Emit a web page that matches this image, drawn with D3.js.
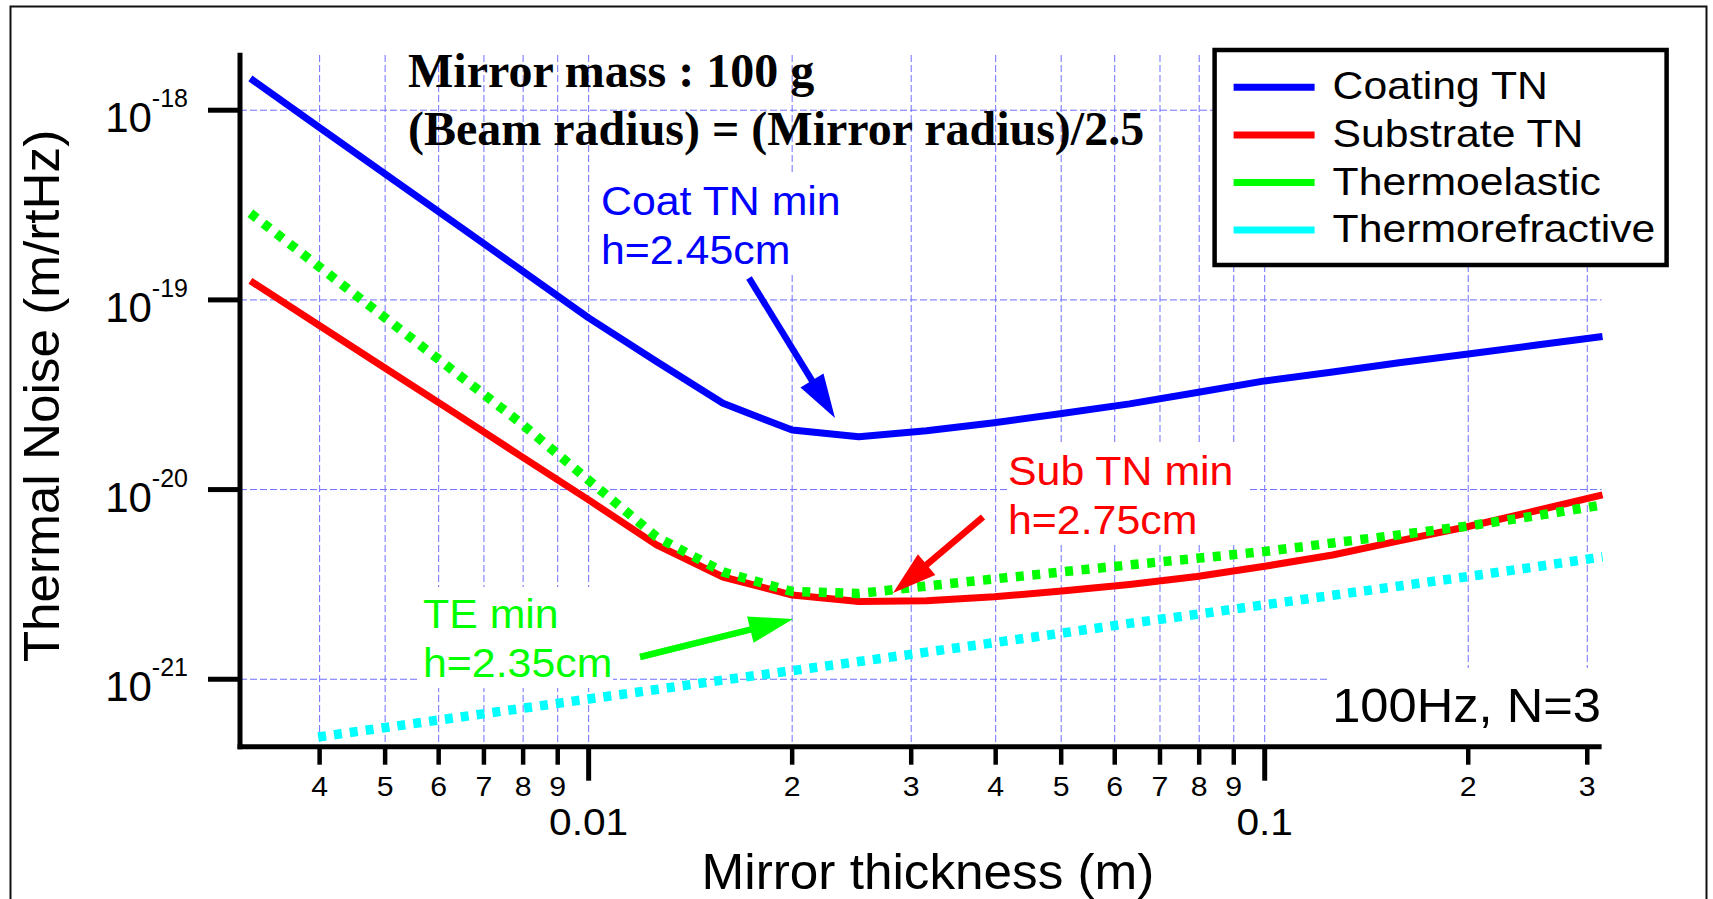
<!DOCTYPE html>
<html>
<head>
<meta charset="utf-8">
<script src="https://cdn.jsdelivr.net/npm/d3@7"></script>
<style>
  body { margin: 0; background: #fff; }
  text { font-family: "Liberation Sans", Arial, sans-serif; }
</style>
</head>
<body>
<svg id="chart" width="1713" height="899"></svg>
<script>
// mirror thickness samples (m), 10 per decade
const thickness = [0.00316, 0.00398, 0.00501, 0.00631, 0.00794, 0.0100, 0.0126, 0.0158, 0.0200, 0.0251,
    0.0316, 0.0398, 0.0501, 0.0631, 0.0794, 0.100, 0.126, 0.158, 0.200, 0.251, 0.316];

// thermal noise (m/rtHz)
const coatingTN = [1.47e-18, 8.19e-19, 4.59e-19, 2.57e-19, 1.44e-19, 8.04e-20, 4.73e-20, 2.85e-20, 2.06e-20, 1.90e-20,
    2.04e-20, 2.25e-20, 2.52e-20, 2.83e-20, 3.25e-20, 3.74e-20, 4.17e-20, 4.66e-20, 5.19e-20, 5.76e-20, 6.41e-20];
const substrateTN = [1.26e-19, 7.40e-20, 4.35e-20, 2.56e-20, 1.50e-20, 8.82e-21, 5.11e-21, 3.46e-21, 2.78e-21, 2.57e-21,
    2.59e-21, 2.72e-21, 2.92e-21, 3.16e-21, 3.48e-21, 3.94e-21, 4.52e-21, 5.36e-21, 6.39e-21, 7.71e-21, 9.37e-21];
const thermoelastic = [2.86e-19, 1.51e-19, 8.00e-20, 4.23e-20, 2.24e-20, 1.12e-20, 5.63e-21, 3.68e-21, 2.90e-21, 2.83e-21,
    3.10e-21, 3.38e-21, 3.68e-21, 4.01e-21, 4.34e-21, 4.72e-21, 5.23e-21, 5.77e-21, 6.43e-21, 7.26e-21, 8.30e-21];
// below the axis at the first sample, so it starts at 4 mm
const thermorefractive = [null, 4.96e-22, 5.57e-22, 6.25e-22, 7.01e-22, 7.87e-22, 8.83e-22, 9.91e-22, 1.11e-21, 1.24e-21,
    1.39e-21, 1.56e-21, 1.75e-21, 1.97e-21, 2.20e-21, 2.47e-21, 2.77e-21, 3.10e-21, 3.48e-21, 3.91e-21, 4.42e-21];

const seriesNames = ["Coating TN", "Substrate TN", "Thermoelastic", "Thermorefractive"];

// axis ticks
const xMinorTicks = [0.004, 0.005, 0.006, 0.007, 0.008, 0.009, 0.02, 0.03, 0.04, 0.05, 0.06, 0.07, 0.08, 0.09, 0.2, 0.3];
const xMajorTicks = [0.01, 0.1];
const xMajorLabels = ["0.01", "0.1"];
const yTicks = [1e-21, 1e-20, 1e-19, 1e-18];

const svg = d3.select("#chart");
const plot = {left: 240, right: 1601.6, top: 52.7, bottom: 746.7};
const gridColor = "#6f6fff";

const x = d3.scaleLog().domain([0.00305, 0.315]).range([plot.left, plot.right]);
const y = d3.scaleLog().domain([4.41e-22, 2.01e-18]).range([plot.bottom, plot.top]);

// the original lettering is a little wider than Arial metrics
function widen(sel, k) {
    sel.each(function () {
        const w = this.getComputedTextLength();
        d3.select(this).attr("textLength", w * k).attr("lengthAdjust", "spacingAndGlyphs");
    });
    return sel;
}

// outer frame
svg.append("rect")
    .attr("x", 10.5).attr("y", 6.5)
    .attr("width", 1696).attr("height", 1000)
    .attr("fill", "none").attr("stroke", "#111").attr("stroke-width", 2);

// dashed grid
const grid = svg.append("g")
    .attr("stroke", gridColor).attr("stroke-width", 1).attr("stroke-dasharray", "7,3");
grid.selectAll(".vgrid")
    .data(xMinorTicks.concat(xMajorTicks))
    .join("line").attr("class", "vgrid")
    .attr("x1", d => x(d)).attr("x2", d => x(d))
    .attr("y1", 55).attr("y2", plot.bottom);
grid.selectAll(".hgrid")
    .data(yTicks)
    .join("line").attr("class", "hgrid")
    .attr("x1", plot.left).attr("x2", plot.right)
    .attr("y1", d => y(d)).attr("y2", d => y(d));

// opaque boxes behind the annotations (they hide the grid)
const boxes = [
    [598, 173, 247, 100],
    [1007, 445, 240, 100],
    [419, 587, 194, 101],
    [1329, 668, 276, 77]
];
svg.append("g").selectAll("rect")
    .data(boxes)
    .join("rect")
    .attr("x", d => d[0]).attr("y", d => d[1])
    .attr("width", d => d[2]).attr("height", d => d[3])
    .attr("fill", "#fff");

// curves
const series = [
    {name: seriesNames[0], values: coatingTN, color: "#0000ff", dash: null},
    {name: seriesNames[1], values: substrateTN, color: "#ff0000", dash: null},
    {name: seriesNames[2], values: thermoelastic, color: "#00ff00", dash: "8,8.5"},
    {name: seriesNames[3], values: thermorefractive, color: "#00ffff", dash: "8,8"}
];

const line = d3.line()
    .defined(d => d[1] != null)
    .x(d => x(d[0]))
    .y(d => y(d[1]));

// cyan, red, blue, then green dots over the red
[3, 1, 0, 2].forEach(i => {
    const s = series[i];
    svg.append("path")
        .datum(thickness.map((t, j) => [t, s.values[j]]))
        .attr("d", line)
        .attr("fill", "none")
        .attr("stroke", s.color)
        .attr("stroke-width", s.dash ? 9.5 : 7)
        .attr("stroke-dasharray", s.dash)
        .attr("stroke-linejoin", "round");
});

// axes
const axes = svg.append("g").attr("stroke", "#000").attr("stroke-width", 5);
axes.append("line")
    .attr("x1", plot.left).attr("x2", plot.left)
    .attr("y1", plot.top).attr("y2", plot.bottom + 2.5);
axes.append("line")
    .attr("x1", plot.left - 2.5).attr("x2", plot.right)
    .attr("y1", plot.bottom).attr("y2", plot.bottom);

// x ticks
axes.selectAll(".xminor")
    .data(xMinorTicks)
    .join("line").attr("class", "xminor")
    .attr("stroke-width", 4.5)
    .attr("x1", d => x(d)).attr("x2", d => x(d))
    .attr("y1", plot.bottom).attr("y2", plot.bottom + 18);
axes.selectAll(".xmajor")
    .data(xMajorTicks)
    .join("line").attr("class", "xmajor")
    .attr("x1", d => x(d)).attr("x2", d => x(d))
    .attr("y1", plot.bottom).attr("y2", plot.bottom + 34);
axes.selectAll(".ytick")
    .data(yTicks)
    .join("line").attr("class", "ytick")
    .attr("x1", plot.left - 32).attr("x2", plot.left)
    .attr("y1", d => y(d)).attr("y2", d => y(d));

widen(svg.selectAll(".xminorlab")
    .data(xMinorTicks)
    .join("text").attr("class", "xminorlab")
    .attr("x", d => x(d)).attr("y", 795.5)
    .attr("text-anchor", "middle")
    .attr("font-size", 28)
    .text(d => Math.round(d / Math.pow(10, Math.floor(Math.log10(d) + 1e-9)))), 1.08);

widen(svg.selectAll(".xmajorlab")
    .data(xMajorTicks)
    .join("text").attr("class", "xmajorlab")
    .attr("x", d => x(d)).attr("y", 835)
    .attr("text-anchor", "middle")
    .attr("font-size", 37)
    .text((d, i) => xMajorLabels[i]), 1.1);

const ylab = svg.selectAll(".ylab")
    .data(yTicks)
    .join("text").attr("class", "ylab")
    .attr("x", 188).attr("y", d => y(d) + 22)
    .attr("text-anchor", "end");
ylab.append("tspan").attr("font-size", 42).text("10");
ylab.append("tspan").attr("font-size", 25).attr("dy", -25)
    .text(d => Math.round(Math.log10(d)));

// axis titles
widen(svg.append("text")
    .attr("x", 928).attr("y", 889)
    .attr("text-anchor", "middle")
    .attr("font-size", 50)
    .text("Mirror thickness (m)"), 1.025);
widen(svg.append("text")
    .attr("transform", "translate(59,396) rotate(-90)")
    .attr("text-anchor", "middle")
    .attr("font-size", 50)
    .text("Thermal Noise (m/rtHz)"), 1.025);

// title block
const title = svg.append("g")
    .attr("font-weight", "bold")
    .attr("font-size", 48);
title.append("text").attr("x", 408).attr("y", 87)
    .style("font-family", "'Liberation Serif', 'Times New Roman', serif")
    .text("Mirror mass : 100 g");
title.append("text").attr("x", 408).attr("y", 145)
    .style("font-family", "'Liberation Serif', 'Times New Roman', serif")
    .text("(Beam radius) = (Mirror radius)/2.5");

// annotations with arrows
function arrow(x1, y1, x2, y2, color) {
    const len = Math.hypot(x2 - x1, y2 - y1);
    const ux = (x2 - x1) / len, uy = (y2 - y1) / len;
    const head = 44, half = 13.5;
    const bx = x2 - ux * head, by = y2 - uy * head;
    svg.append("line")
        .attr("x1", x1).attr("y1", y1).attr("x2", bx + ux * 2).attr("y2", by + uy * 2)
        .attr("stroke", color).attr("stroke-width", 6.5);
    svg.append("path")
        .attr("d", d3.line()([[x2, y2], [bx - uy * half, by + ux * half], [bx + uy * half, by - ux * half]]) + "Z")
        .attr("fill", color);
}

function note(lines, x0, y0, color) {
    lines.forEach((t, i) => {
        widen(svg.append("text")
            .attr("x", x0).attr("y", y0 + i * 49)
            .attr("font-size", 41)
            .attr("fill", color)
            .text(t), 1.045);
    });
}

note(["Coat TN min", "h=2.45cm"], 601, 215, "#0000ff");
arrow(749, 278, 835, 418, "#0000ff");
note(["Sub TN min", "h=2.75cm"], 1008, 485, "#ff0000");
arrow(983, 517, 893, 593, "#ff0000");
note(["TE min", "h=2.35cm"], 423, 628, "#00ff00");
arrow(640, 657, 793, 619, "#00ff00");

widen(svg.append("text")
    .attr("x", 1601).attr("y", 722)
    .attr("text-anchor", "end")
    .attr("font-size", 48)
    .text("100Hz, N=3"), 1.055);

// legend
const legend = svg.append("g").attr("transform", "translate(1214.6,50)");
legend.append("rect")
    .attr("width", 452).attr("height", 215)
    .attr("fill", "#fff").attr("stroke", "#000").attr("stroke-width", 4.5);
const items = legend.selectAll(".item")
    .data(series)
    .join("g").attr("class", "item")
    .attr("transform", (d, i) => `translate(0,${37.3 + i * 47.6})`);
items.append("line")
    .attr("x1", 19).attr("x2", 100)
    .attr("stroke", d => d.color).attr("stroke-width", 7);
widen(items.append("text")
    .attr("x", 118).attr("y", 12)
    .attr("font-size", 39)
    .text(d => d.name), 1.095);
</script>
</body>
</html>
